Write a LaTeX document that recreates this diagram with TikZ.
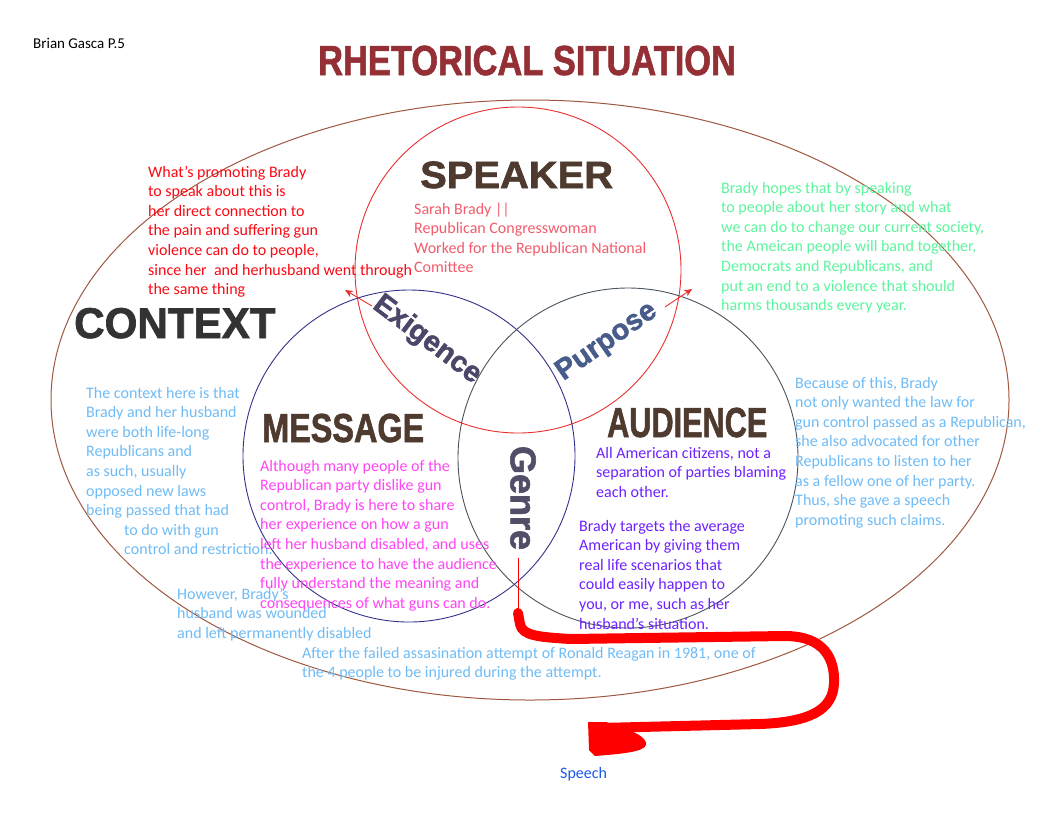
\documentclass[tikz,border=0pt]{standalone}
\usepackage{fontspec}
\setmainfont{Carlito}
\newfontfamily\hdfont{Liberation Sans}[BoldFeatures={FakeBold=1.6}]
\usetikzlibrary{arrows.meta}
\definecolor{titlec}{RGB}{148,48,53}
\definecolor{headc}{RGB}{78,58,46}
\definecolor{ctxc}{RGB}{52,50,50}
\definecolor{exigc}{RGB}{76,70,104}
\definecolor{purpc}{RGB}{72,92,140}
\definecolor{genrec}{RGB}{82,78,104}
\definecolor{redtxt}{RGB}{250,10,20}
\definecolor{spkc}{RGB}{242,92,108}
\definecolor{grnc}{RGB}{93,245,158}
\definecolor{lblue}{RGB}{112,188,246}
\definecolor{magc}{RGB}{255,69,245}
\definecolor{vioc}{RGB}{110,34,255}
\definecolor{speechc}{RGB}{30,91,230}
\definecolor{ellc}{RGB}{160,88,64}
\definecolor{msgc}{RGB}{50,50,140}
\definecolor{audc}{RGB}{74,84,94}
\definecolor{spkcirc}{RGB}{232,48,48}
\newcommand\mylines[1]{\begin{tabular}[t]{@{}l@{}}#1\end{tabular}}
\newcommand\hd[3]{\scalebox{#2}[1]{\hdfont\bfseries\fontsize{#1}{#1}\selectfont #3}}
\tikzset{
  body/.style={anchor=base west, inner sep=0pt, font=\fontsize{16}{19.6}\selectfont},
  head/.style={anchor=base west, inner sep=0pt},
  lbl/.style={inner sep=0pt, font=\hdfont\bfseries\fontsize{29}{29}\selectfont},
  arr/.style={spkcirc, line width=0.9pt, -{Stealth[length=8pt,width=7pt]}}
}
\begin{document}
\begin{tikzpicture}[x=1pt,y=-1pt]
\useasboundingbox (0,0) rectangle (1059,812);
\fill[white] (0,0) rectangle (1059,812);

% shapes
\draw[ellc, line width=1pt] (530,400) ellipse [x radius=479pt, y radius=300pt];
\draw[spkcirc, line width=0.9pt] (518,270) circle [radius=163pt];
\draw[msgc, line width=0.9pt] (409,456) circle [radius=166pt];
\draw[audc, line width=0.9pt] (628,458) circle [radius=170pt];

% title
\node[anchor=base west, inner sep=0pt] (author) at (33,48) {\fontsize{15}{17}\selectfont Brian Gasca P.5};
\node[head, text=titlec] (title) at (318,75) {\hd{42}{0.82}{RHETORICAL SITUATION}};

% headings
\node[head, text=headc] (speaker) at (420,188) {\hd{38}{1.05}{SPEAKER}};
\node[head, text=ctxc] (context) at (74,338) {\hd{43}{0.98}{CONTEXT}};
\node[head, text=headc] (message) at (262,442) {\hd{40.5}{0.8}{MESSAGE}};
\node[head, text=headc] (audience) at (607,437) {\hd{42}{0.73}{AUDIENCE}};

% rotated labels
\node[lbl, text=exigc, rotate=-37] (exig) at (427,340) {Exigence};
\node[lbl, text=purpc, rotate=35] (purp) at (607,342) {Purpose};
\node[lbl, text=genrec, rotate=-90, font=\hdfont\bfseries\fontsize{36}{36}\selectfont] (genre) at (523,498) {Genre};

% arrows
\coordinate (ex1) at (372,306);
\coordinate (ex2) at (345,290);
\coordinate (pu1) at (665,307);
\coordinate (pu2) at (692,289);
\draw[arr] (ex1) -- (ex2);
\draw[arr] (pu1) -- (pu2);

% body texts
\node[body, text=redtxt] (exigtxt) at (148,177) {\mylines{What's promoting Brady\\to speak about this is\\her direct connection to\\the pain and suffering gun\\violence can do to people,\\since her\ \ and herhusband went through\\the same thing}};
\node[body, text=spkc] (spktxt) at (414,214) {\mylines{Sarah Brady ||\\Republican Congresswoman\\Worked for the Republican National\\Comittee}};
\node[body, text=grnc] (purptxt) at (721,193) {\mylines{Brady hopes that by speaking\\to people about her story and what\\we can do to change our current society,\\the Ameican people will band together,\\Democrats and Republicans, and\\put an end to a violence that should\\harms thousands every year.}};
\node[body, text=lblue] (ctxtxt) at (86,398) {\mylines{The context here is that\\Brady and her husband\\were both life-long\\Republicans and\\as such, usually\\opposed new laws\\being passed that had}};
\node[body, text=lblue] (ctxtxt2) at (124,535) {\mylines{to do with gun\\control and restriction.}};
\node[body, text=lblue] (rtxt) at (795,388) {\mylines{Because of this, Brady\\not only wanted the law for\\gun control passed as a Republican,\\she also advocated for other\\Republicans to listen to her\\as a fellow one of her party.\\Thus, she gave a speech\\promoting such claims.}};
\node[body, text=magc] (msgtxt) at (260,471) {\mylines{Although many people of the\\Republican party dislike gun\\control, Brady is here to share\\her experience on how a gun\\left her husband disabled, and uses\\the experience to have the audience\\fully understand the meaning and\\consequences of what guns can do.}};
\node[body, text=vioc] (audtxt) at (596,458) {\mylines{All American citizens, not a\\separation of parties blaming\\each other.}};
\node[body, text=vioc] (audtxt2) at (579,531) {\mylines{Brady targets the average\\American by giving them\\real life scenarios that\\could easily happen to\\you, or me, such as her\\husband's situation.}};
\node[body, text=lblue] (btxt) at (177,599) {\mylines{However, Brady's\\husband was wounded\\and left permanently disabled}};
\node[body, text=lblue] (atxt) at (302,658) {\mylines{After the failed assasination attempt of Ronald Reagan in 1981, one of\\the 4 people to be injured during the attempt.}};
\node[body, text=speechc] (speech) at (560,778) {Speech};

% genre to speech
\coordinate (gtop) at (518,558);
\coordinate (gbend) at (518,613);
\coordinate (stip) at (600,728);
\draw[red, line width=1pt] (gtop) -- (gbend);
\draw[red, line width=10pt, line cap=round, line join=round]
  (gbend) -- (520,624) .. controls (522,636) and (540,637) .. (570,639)
  -- (785,636) .. controls (825,636) and (835,660) .. (834,683)
  .. controls (833,710) and (810,722) .. (760,724) -- (stip);
\fill[red] (588,722) -- (606,722) .. controls (630,729) and (648,737) .. (646,745)
  .. controls (644,752) and (620,754) .. (595,756) -- (589,750) -- cycle;
\end{tikzpicture}
\end{document}
